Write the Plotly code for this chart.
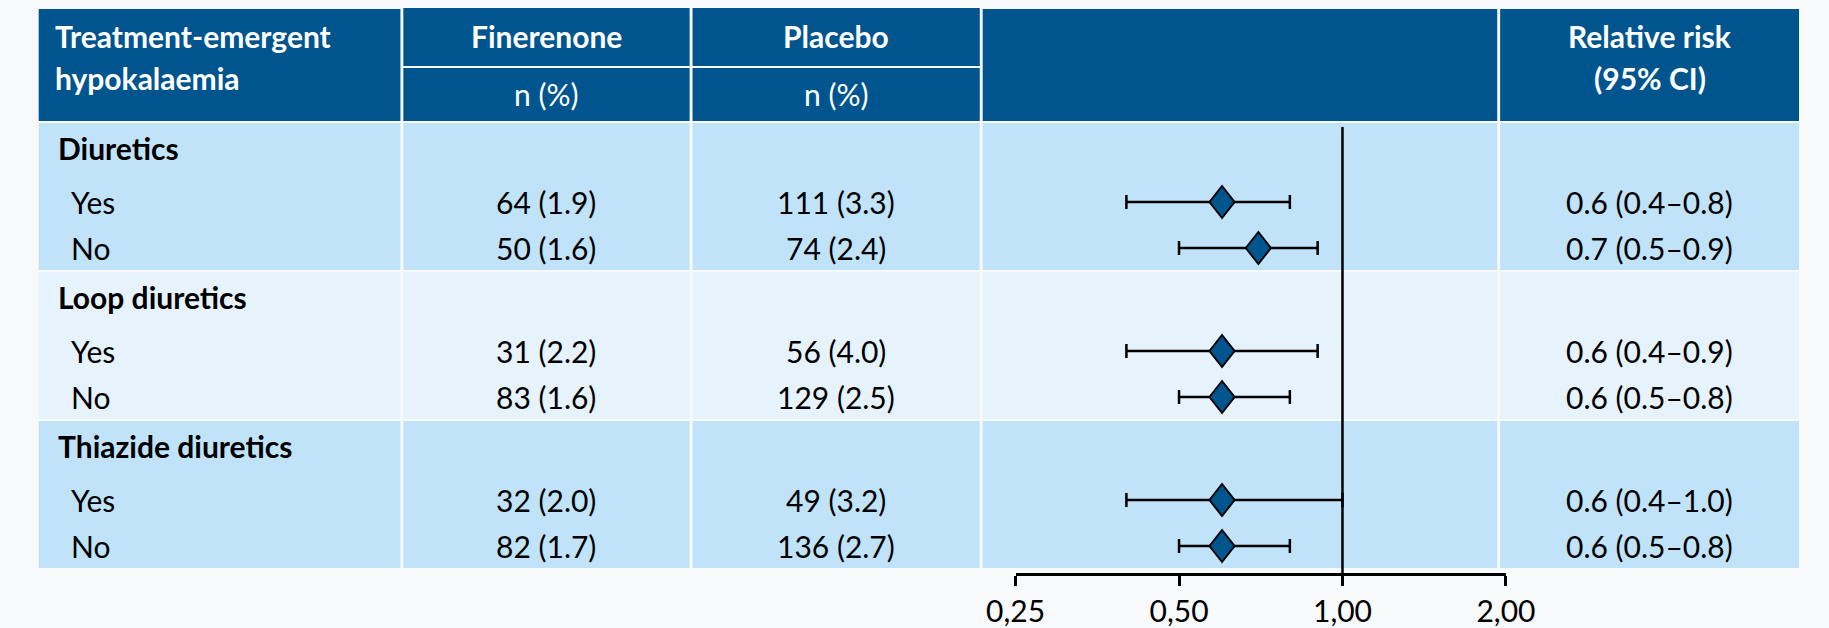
import math
import plotly.graph_objects as go

# ---- data -------------------------------------------------------------
groups = ["Diuretics", "Loop diuretics", "Thiazide diuretics"]
subgroups = ["Yes", "No"]
fin_n = [64, 50, 31, 83, 32, 82]
fin_pct = [1.9, 1.6, 2.2, 1.6, 2.0, 1.7]
pla_n = [111, 74, 56, 129, 49, 136]
pla_pct = [3.3, 2.4, 4.0, 2.5, 3.2, 2.7]
rr = [0.6, 0.7, 0.6, 0.6, 0.6, 0.6]
rr_lo = [0.4, 0.5, 0.4, 0.5, 0.4, 0.5]
rr_hi = [0.8, 0.9, 0.9, 0.8, 1.0, 0.8]
tick_vals = [0.25, 0.5, 1.0, 2.0]
tick_text = ["0,25", "0,50", "1,00", "2,00"]

# ---- layout constants (pixels) ----------------------------------------
W, H = 1829, 628
DARK = "#00558F"
FILLS = ["#C0E3FA", "#E6F2FC", "#C0E3FA"]
BG = "#F8F9FB"
FONT = "Lato"
FS = 30
FS_BOLD = 30

cols = [(9, 383), (386, 682), (685, 982), (985, 1517), (1520, 1829)]
HEAD_TOP, HEAD_MID, HEAD_BOT = 9, 66, 121
G_TOP0, G_STEP, G_H = 123, 149, 147
OFF_LABEL, OFF_ROWS = 25, [79, 125]
AXIS_Y = 574
AX_X0, AX_X1 = 1019, 1526            # pixel span of the forest axis
X_MIN, X_MAX = 0.25, 2.0
DIA_HW, DIA_HH = 13, 16              # diamond half width / half height (px)


def px(x):
    return x / W


def row_y(k):
    g, s = divmod(k, 2)
    return G_TOP0 + g * G_STEP + OFF_ROWS[s]


fig = go.Figure()
shapes = []
ann = []

# header cells
for ci, (x0, x1) in enumerate(cols):
    if ci in (1, 2):
        shapes.append(dict(type="rect", xref="paper", yref="y", x0=px(x0), x1=px(x1),
                           y0=HEAD_TOP - 1, y1=HEAD_MID, fillcolor=DARK, line_width=0, layer="below"))
        shapes.append(dict(type="rect", xref="paper", yref="y", x0=px(x0), x1=px(x1),
                           y0=HEAD_MID + 2, y1=HEAD_BOT, fillcolor=DARK, line_width=0, layer="below"))
    else:
        shapes.append(dict(type="rect", xref="paper", yref="y", x0=px(x0), x1=px(x1),
                           y0=HEAD_TOP, y1=HEAD_BOT, fillcolor=DARK, line_width=0, layer="below"))

# body cells
for g in range(len(groups)):
    y0 = G_TOP0 + g * G_STEP
    for (x0, x1) in cols:
        shapes.append(dict(type="rect", xref="paper", yref="y", x0=px(x0), x1=px(x1),
                           y0=y0, y1=y0 + G_H, fillcolor=FILLS[g], line_width=0, layer="below"))


def text(x, y, s, bold=False, color="black", anchor="center"):
    ann.append(dict(x=px(x), y=y, xref="paper", yref="y", text=f"<b>{s}</b>" if bold else s,
                    showarrow=False, xanchor=anchor, yanchor="middle",
                    font=dict(family=FONT, size=FS_BOLD if bold else FS, color=color)))


def mid(ci):
    return (cols[ci][0] + cols[ci][1]) / 2


# header text
text(24, 36, "Treatment-emergent", True, "white", "left")
text(24, 78, "hypokalaemia", True, "white", "left")
text(mid(1), 36, "Finerenone", True, "white")
text(mid(2), 36, "Placebo", True, "white")
text(mid(1), 94, "n (%)", False, "white")
text(mid(2), 94, "n (%)", False, "white")
text(mid(4), 36, "Relative risk", True, "white")
text(mid(4), 78, "(95% CI)", True, "white")

# body text
for g, name in enumerate(groups):
    text(27, G_TOP0 + g * G_STEP + OFF_LABEL, name, True, "black", "left")
for k in range(len(rr)):
    y = row_y(k)
    text(40, y, subgroups[k % 2], False, "black", "left")
    text(mid(1), y, f"{fin_n[k]} ({fin_pct[k]:.1f})")
    text(mid(2), y, f"{pla_n[k]} ({pla_pct[k]:.1f})")
    text(mid(4), y, f"{rr[k]:.1f} ({rr_lo[k]:.1f}\u2013{rr_hi[k]:.1f})")

# reference line at relative risk = 1
fig.add_trace(go.Scatter(x=[1, 1], y=[G_TOP0 + 4, AXIS_Y], mode="lines",
                         line=dict(color="black", width=2.5), hoverinfo="skip", showlegend=False))

# confidence intervals
fig.add_trace(go.Scatter(
    x=rr, y=[row_y(k) for k in range(len(rr))], mode="markers",
    marker=dict(size=1, opacity=0),
    error_x=dict(type="data", symmetric=False,
                 array=[h - r for h, r in zip(rr_hi, rr)],
                 arrayminus=[r - l for r, l in zip(rr, rr_lo)],
                 color="black", thickness=2.5, width=7),
    showlegend=False, hoverinfo="skip"))

# point estimates as diamonds (width given in pixels on the log axis)
px_per_decade = (AX_X1 - AX_X0) / (math.log10(X_MAX) - math.log10(X_MIN))
f = 10 ** (DIA_HW / px_per_decade)
dx, dy = [], []
for k, r in enumerate(rr):
    y = row_y(k)
    dx += [r / f, r, r * f, r, r / f, None]
    dy += [y, y - DIA_HH, y, y + DIA_HH, y, None]
fig.add_trace(go.Scatter(x=dx, y=dy, mode="lines", fill="toself", fillcolor=DARK,
                         line=dict(color="black", width=2), hoverinfo="skip", showlegend=False))

fig.update_layout(
    width=W, height=H, margin=dict(l=0, r=0, t=0, b=0),
    paper_bgcolor=BG, plot_bgcolor="rgba(0,0,0,0)",
    shapes=shapes, annotations=ann,
    xaxis=dict(type="log", range=[math.log10(X_MIN), math.log10(X_MAX)],
               domain=[AX_X0 / W, AX_X1 / W], anchor="free", position=1 - AXIS_Y / H,
               showline=True, linecolor="black", linewidth=2.5,
               ticks="outside", ticklen=10, tickwidth=2.5, tickcolor="black",
               tickvals=tick_vals, ticktext=tick_text,
               tickfont=dict(family=FONT, size=FS, color="black"),
               showgrid=False, zeroline=False, fixedrange=True),
    yaxis=dict(range=[H, 0], domain=[0, 1], visible=False, fixedrange=True),
)

fig.write_html("out.html")
